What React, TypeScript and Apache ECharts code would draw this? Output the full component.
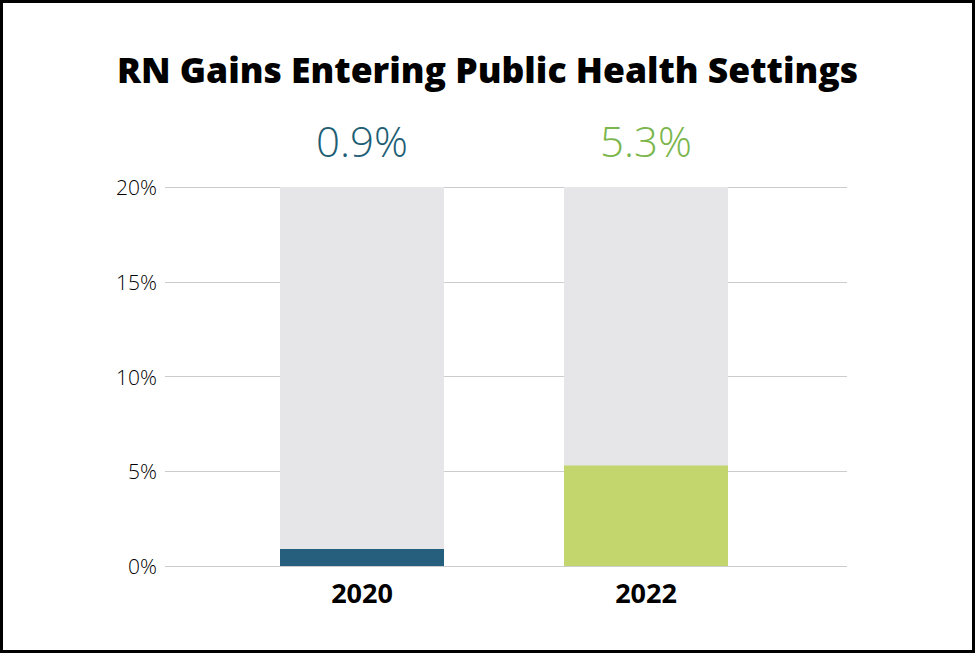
import React, { useEffect, useRef } from "react";
import * as echarts from "echarts";

const title = "RN Gains Entering Public Health Settings";
const years = ["2020", "2022"];
const values = [0.9, 5.3];
const scaleMax = [20, 20];
const barColors = ["#265f7d", "#c3d66e"];
const labelColors = ["#1d5e74", "#7ab64b"];
const yTicks = [0, 5, 10, 15, 20];

export default function App() {
  const ref = useRef<HTMLDivElement>(null);
  useEffect(() => {
    if (!ref.current) return;
    const chart = echarts.init(ref.current, null, { renderer: "svg" });
    const font = "'Open Sans', 'Noto Sans', sans-serif";
    chart.setOption({
      animation: false,
      backgroundColor: "#ffffff",
      title: {
        text: title,
        left: "center",
        top: 46,
        textStyle: { fontFamily: font, fontWeight: 800, fontSize: 35.5, color: "#000" },
      },
      graphic: [
        {
          type: "rect",
          shape: { x: 1.5, y: 1.5, width: 972, height: 650 },
          style: { fill: "none", stroke: "#000", lineWidth: 3 },
          z: 100,
        },
      ],
      grid: [
        { left: 165, right: 128, top: 187, bottom: 87 },
        { left: 220, right: 187, top: 187, bottom: 87 },
      ],
      xAxis: [
        { type: "category", gridIndex: 0, data: years, show: false },
        {
          type: "category",
          gridIndex: 1,
          data: years,
          axisLine: { show: false },
          axisTick: { show: false },
          axisLabel: {
            margin: 13,
            fontFamily: font,
            fontWeight: 700,
            fontSize: 27,
            color: "#000",
          },
        },
      ],
      yAxis: [
        {
          type: "value",
          gridIndex: 0,
          min: yTicks[0],
          max: yTicks[yTicks.length - 1],
          interval: 5,
          axisLine: { show: false },
          axisTick: { show: false },
          splitLine: { lineStyle: { color: "#cccccc", width: 1 } },
          axisLabel: {
            formatter: "{value}%",
            margin: 8,
            fontFamily: font,
            fontWeight: 300,
            fontSize: 21,
            color: "#000",
          },
        },
        {
          type: "value",
          gridIndex: 1,
          min: 0,
          max: 20,
          show: false,
          splitLine: { show: false },
        },
      ],
      series: [
        {
          type: "bar",
          xAxisIndex: 1,
          yAxisIndex: 1,
          barWidth: 164,
          barGap: "-100%",
          itemStyle: { color: "#e6e6e8" },
          silent: true,
          data: scaleMax.map((v, i) => ({
            value: v,
            label: {
              show: true,
              position: "top",
              distance: 26,
              formatter: () => values[i].toFixed(1) + "%",
              fontFamily: font,
              fontWeight: 300,
              fontSize: 42,
              color: labelColors[i],
            },
          })),
        },
        {
          type: "bar",
          xAxisIndex: 1,
          yAxisIndex: 1,
          barWidth: 164,
          barGap: "-100%",
          data: values.map((v, i) => ({ value: v, itemStyle: { color: barColors[i] } })),
        },
      ],
    });
    return () => chart.dispose();
  }, []);
  return (
    <div
      ref={ref}
      style={{ position: "fixed", left: 0, top: 0, width: 975, height: 653 }}
    />
  );
}
